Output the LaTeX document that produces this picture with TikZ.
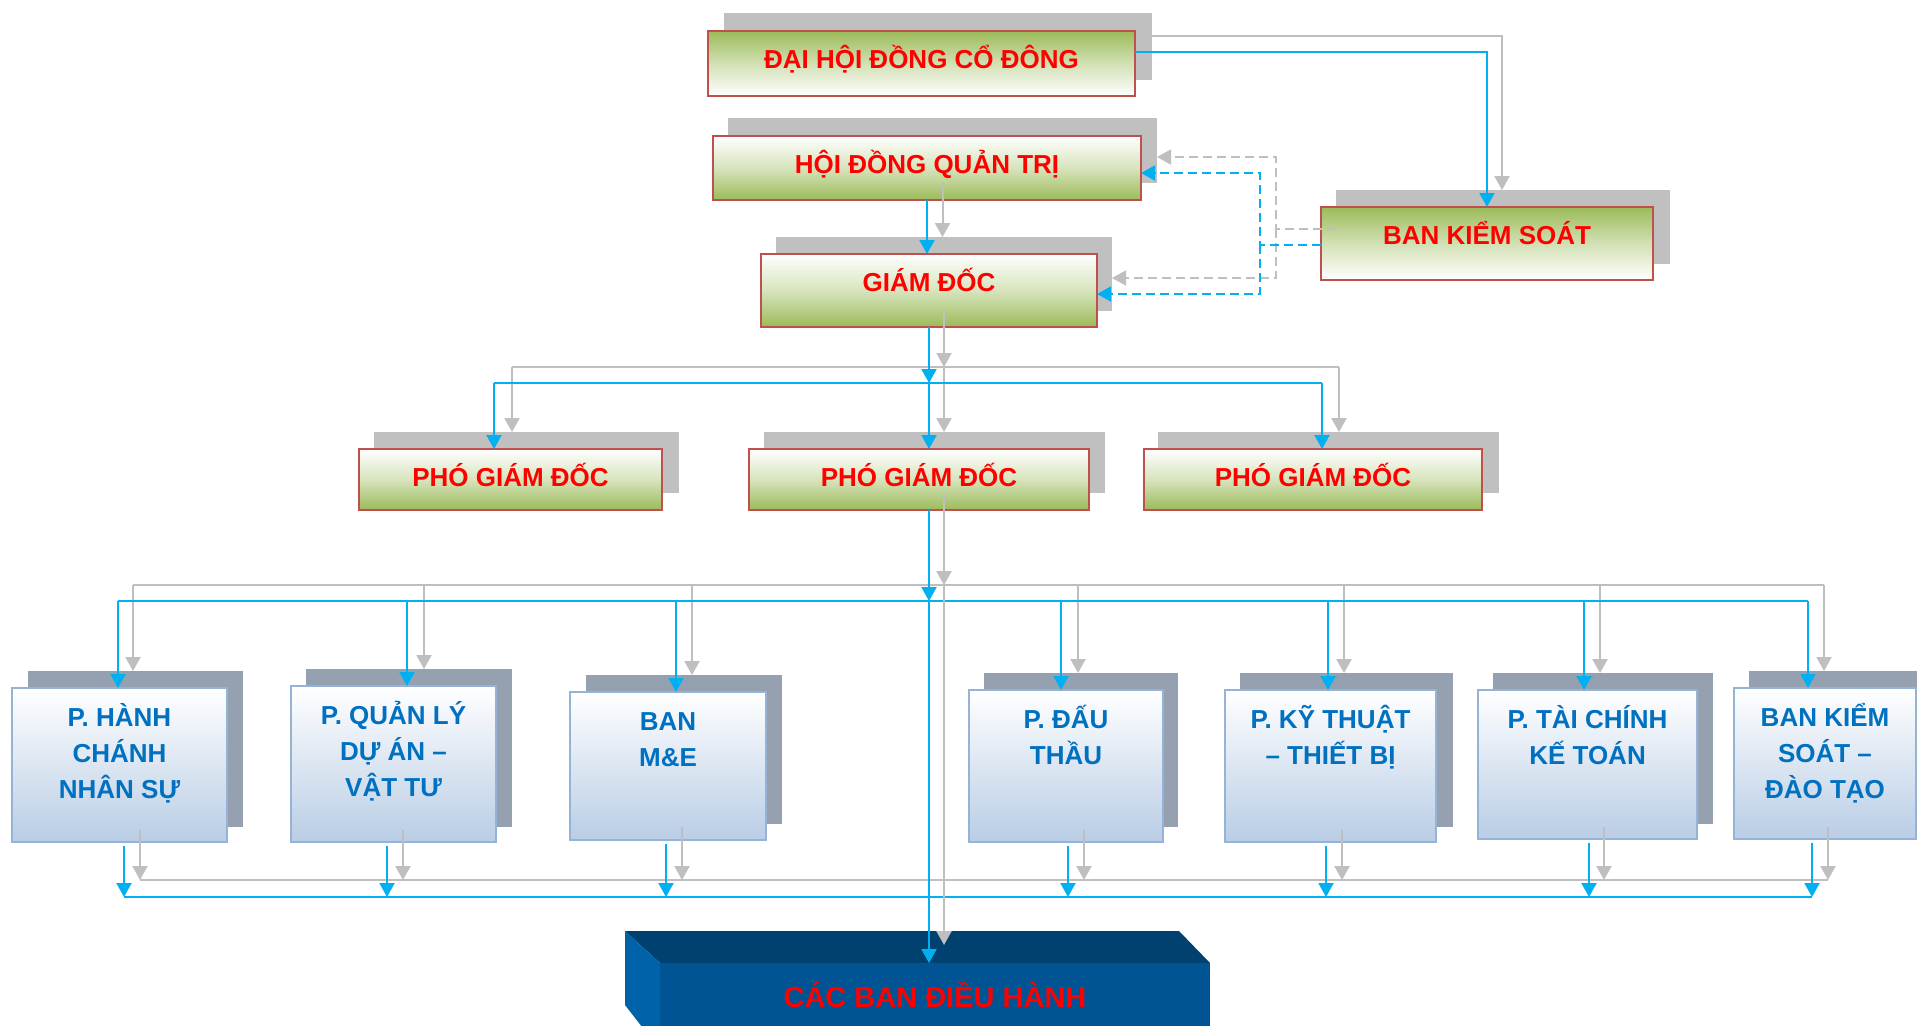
\documentclass[tikz,border=0pt]{standalone}
\usepackage{fontspec}
\setmainfont{Liberation Sans}
\usetikzlibrary{arrows.meta,calc}
\definecolor{cblue}{RGB}{0,176,240}
\definecolor{cgray}{RGB}{191,191,191}
\definecolor{cred}{RGB}{192,80,77}
\definecolor{cgreen}{RGB}{155,187,89}
\definecolor{shR}{RGB}{192,192,192}
\definecolor{shB}{RGB}{149,161,176}
\definecolor{bbord}{RGB}{149,179,215}
\definecolor{bfill}{RGB}{185,205,229}
\definecolor{btext}{RGB}{0,112,192}
\definecolor{cbfront}{RGB}{0,84,147}
\definecolor{cbtopc}{RGB}{0,65,112}
\definecolor{cbleft}{RGB}{0,98,168}
\begin{document}
\begin{tikzpicture}[x=0.5pt,y=-0.5pt,
  shadowR/.style={fill=shR, inner sep=0, outer sep=0},
  shadowB/.style={fill=shB, inner sep=0, outer sep=0},
  gbox/.style={draw=cred, line width=1.2pt, inner sep=0, outer sep=0, top color=white, bottom color=cgreen, middle color=cgreen!40!white},
  gboxr/.style={draw=cred, line width=1.2pt, inner sep=0, outer sep=0, top color=cgreen, bottom color=white, middle color=cgreen!45!white},
  bbox/.style={draw=bbord, line width=1pt, inner sep=0, outer sep=0, top color=white, bottom color=bfill, middle color=bfill!50!white},
  rtxt/.style={text=red, font=\fontsize{13}{15}\selectfont\bfseries, anchor=base, inner sep=0},
  btxt/.style={text=btext, font=\fontsize{13}{18}\selectfont\bfseries, align=center, anchor=north, inner sep=0},
  bl/.style={draw=cblue, line width=1pt},
  gr/.style={draw=cgray, line width=1pt},
  tip/.style={-{Triangle[length=7pt,width=7.5pt]}},
  bla/.style={bl, tip},
  gra/.style={gr, tip},
  blda/.style={bl, tip, dash pattern=on 4.5pt off 2.5pt},
  grda/.style={gr, tip, dash pattern=on 4.5pt off 2.5pt}
]
\useasboundingbox (0,0) rectangle (1917,1025);
\clip (0,0) rectangle (1917,1025);
\fill[white] (0,0) rectangle (1917,1025);

% ---- shadows (top part)
\node[shadowR, minimum width=214pt, minimum height=33.5pt] (dhS) at (938,46.5) {};
\node[shadowR, minimum width=214.5pt, minimum height=32.5pt] (hdS) at (942.5,150.5) {};
\node[shadowR, minimum width=168pt, minimum height=37pt] (gdS) at (944,274) {};
\node[shadowR, minimum width=167pt, minimum height=37pt] (bksS) at (1503,227) {};
\node[shadowR, minimum width=152.5pt, minimum height=30.5pt] (p1S) at (526.5,462.5) {};
\node[shadowR, minimum width=170.5pt, minimum height=30.5pt] (p2S) at (934.5,462.5) {};
\node[shadowR, minimum width=170.5pt, minimum height=30.5pt] (p3S) at (1328.5,462.5) {};

% ---- red boxes
\node[gboxr, minimum width=213.5pt, minimum height=32.5pt] (dh) at (921.5,63.5) {};
\node[gbox, minimum width=214pt, minimum height=32pt] (hd) at (927,168) {};
\node[gbox, minimum width=168pt, minimum height=36.5pt] (gd) at (929,290.5) {};
\node[gboxr, minimum width=166pt, minimum height=36.5pt] (bks) at (1487,243.5) {};
\node[gbox, minimum width=151.5pt, minimum height=30.5pt] (p1) at (510.5,479.5) {};
\node[gbox, minimum width=170pt, minimum height=30.5pt] (p2) at (919,479.5) {};
\node[gbox, minimum width=169pt, minimum height=30.5pt] (p3) at (1313,479.5) {};

% ---- lower shadows
\node[shadowB, minimum width=107.5pt, minimum height=78pt] (b1S) at (135.5,749) {};
\node[shadowB, minimum width=103pt, minimum height=79pt] (b2S) at (409,748) {};
\node[shadowB, minimum width=98pt, minimum height=74.5pt] (b3S) at (684,749.5) {};
\node[shadowB, minimum width=97pt, minimum height=77pt] (b4S) at (1081,750) {};
\node[shadowB, minimum width=106.5pt, minimum height=77pt] (b5S) at (1346.5,750) {};
\node[shadowB, minimum width=110pt, minimum height=75.5pt] (b6S) at (1603,748.5) {};
\node[shadowB, minimum width=91pt, minimum height=76.5pt] (b7S) at (1840,747.5) {};

% ---- lower boxes
\node[bbox, minimum width=107.5pt, minimum height=77pt] (b1) at (119.5,765) {};
\node[bbox, minimum width=102.5pt, minimum height=78pt] (b2) at (393.5,764) {};
\node[bbox, minimum width=98pt, minimum height=74pt] (b3) at (668,766) {};
\node[bbox, minimum width=97pt, minimum height=76pt] (b4) at (1066,766) {};
\node[bbox, minimum width=105.5pt, minimum height=76pt] (b5) at (1330.5,766) {};
\node[bbox, minimum width=109.5pt, minimum height=74.5pt] (b6) at (1587.5,764.5) {};
\node[bbox, minimum width=91pt, minimum height=75.5pt] (b7) at (1825,763.5) {};

% ---- CÁC BAN ĐIỀU HÀNH (3D block)
\fill[cbtopc] (625,931) -- (1179,931) -- (1210,963) -- (660,963) -- cycle;
\fill[cbleft] (625,931) -- (660,963) -- (660,1050) -- (625,1005) -- cycle;
\node[fill=cbfront, minimum width=275pt, minimum height=45pt, anchor=north west, inner sep=0, outer sep=0] (cb) at (660,963) {};

% ---- connectors: top
\draw[bla] ($(dh.east)+(0,-11.5)$) -| (bks.north);
\draw[gra] ($(dhS.east)+(0,-10.5)$) -| ($(bksS.north)+(-1,0)$);
\draw[bla] (hd.south) -- (hd.south |- gd.north);
\draw[gra] (hdS.south) -- (hdS.south |- gdS.north);

\coordinate (kb) at ($(bks.west)+(-61,1.5)$);
\coordinate (kg) at ($(bksS.west)+(-60,2)$);
\draw[grda] ($(bksS.west)+(0,2)$) -- (kg) |- ($(hdS.east)+(0,6.5)$);
\draw[grda] (kg) |- ($(gdS.east)+(0,4)$);
\draw[blda] ($(bks.west)+(0,1.5)$) -- (kb) |- ($(hd.east)+(0,5)$);
\draw[blda] (kb) |- ($(gd.east)+(0,3.5)$);

% ---- GĐ -> PGĐ
\coordinate (j1b) at (929,383);
\coordinate (j1g) at (944,367);
\coordinate (p1b) at ($(p1.north)+(-16.5,0)$);
\coordinate (p2b) at ($(p2.north)+(10,0)$);
\coordinate (p3b) at ($(p3.north)+(9,0)$);
\coordinate (p1g) at ($(p1S.north)+(-14.5,0)$);
\coordinate (p2g) at ($(p2S.north)+(9.5,0)$);
\coordinate (p3g) at ($(p3S.north)+(10.5,0)$);
\draw[gr] (p1g |- j1g) -- (p3g |- j1g);
\draw[gra] (gdS.south) -- (j1g);
\foreach \n in {p1g,p2g,p3g} {\draw[gra] (\n |- j1g) -- (\n);}
\draw[bl] (p1b |- j1b) -- (p3b |- j1b);
\draw[bla] (gd.south) -- (j1b);
\foreach \n in {p1b,p2b,p3b} {\draw[bla] (\n |- j1b) -- (\n);}

% ---- PGĐ -> departments
\coordinate (p2o) at ($(p2.south)+(10,0)$);
\coordinate (p2go) at ($(p2S.south)+(9.5,0)$);
\coordinate (j2b) at (929,601);
\coordinate (j2g) at (944,585);
\coordinate (cbg) at (944,945);
\coordinate (bb) at (0,897);
\coordinate (bg) at (0,880);

\foreach \i/\a/\c/\e/\f in {1/-1.5/-2.5/4.5/4.5, 2/13.5/15/-6.5/-6, 3/8/8/-2/-2, 4/-5/-3/2/3, 5/-2.5/-2.5/-4.5/-4.5, 6/-3.5/-3/1.5/1, 7/-17/-16/-13/-12} {
  \coordinate (ib\i) at ($(b\i.north)+(\a,0)$);
  \coordinate (ig\i) at ($(b\i S.north)+(\c,0)$);
  \coordinate (ob\i) at ($(b\i.south)+(\e,4)$);
  \coordinate (og\i) at ($(b\i S.south)+(\f,3)$);
}

\draw[gr] (ig1 |- j2g) -- (ig7 |- j2g);
\draw[gra] (p2go) -- (j2g);
\foreach \i in {1,...,7} {\draw[gra] (ig\i |- j2g) -- (ig\i);}
\draw[bl] (ib1 |- j2b) -- (ib7 |- j2b);
\draw[bla] (p2o) -- (j2b);
\foreach \i in {1,...,7} {\draw[bla] (ib\i |- j2b) -- (ib\i);}

% bottom buses
\draw[gr] (og1 |- bg) -- (og7 |- bg);
\foreach \i in {1,...,7} {\draw[gra] (og\i) -- (og\i |- bg);}
\draw[bl, line width=1.4pt] (ob1 |- bb) -- (ob7 |- bb);
\foreach \i in {1,...,7} {\draw[bla] (ob\i) -- (ob\i |- bb);}

% main trunk to CÁC BAN
\draw[gra] (j2g) -- (cbg);
\draw[bla] (j2b) -- (j2b |- cb.north);

% ---- texts
\node[rtxt] (dhT) at (921.5,68.3) {ĐẠI HỘI ĐỒNG CỔ ĐÔNG};
\node[rtxt] (hdT) at (927,173.3) {HỘI ĐỒNG QUẢN TRỊ};
\node[rtxt] (gdT) at (929,291.8) {GIÁM ĐỐC};
\node[rtxt] (bksT) at (1487,244.8) {BAN KIỂM SOÁT};
\node[rtxt] (p1T) at (510.5,486.8) {PHÓ GIÁM ĐỐC};
\node[rtxt] (p2T) at (919,486.8) {PHÓ GIÁM ĐỐC};
\node[rtxt] (p3T) at (1313,486.8) {PHÓ GIÁM ĐỐC};
\node[rtxt, font=\fontsize{14.5}{16}\selectfont\bfseries] (cbT) at (935,1007.5) {CÁC BAN ĐIỀU HÀNH};

\node[btxt] (b1T) at ($(b1.north)+(0,10.3)$) {\rule{0pt}{14pt}P. HÀNH\\CHÁNH\\NHÂN SỰ};
\node[btxt] (b2T) at ($(b2.north)+(0,10.3)$) {\rule{0pt}{14pt}P. QUẢN LÝ\\DỰ ÁN –\\VẬT TƯ};
\node[btxt] (b3T) at ($(b3.north)+(0,10.3)$) {\rule{0pt}{14pt}BAN\\M\&E};
\node[btxt] (b4T) at ($(b4.north)+(0,10.3)$) {\rule{0pt}{14pt}P. ĐẤU\\THẦU};
\node[btxt] (b5T) at ($(b5.north)+(0,10.3)$) {\rule{0pt}{14pt}P. KỸ THUẬT\\– THIẾT BỊ};
\node[btxt] (b6T) at ($(b6.north)+(0,10.3)$) {\rule{0pt}{14pt}P. TÀI CHÍNH\\KẾ TOÁN};
\node[btxt] (b7T) at ($(b7.north)+(0,10.3)$) {\rule{0pt}{14pt}BAN KIỂM\\SOÁT –\\ĐÀO TẠO};
\end{tikzpicture}
\end{document}
